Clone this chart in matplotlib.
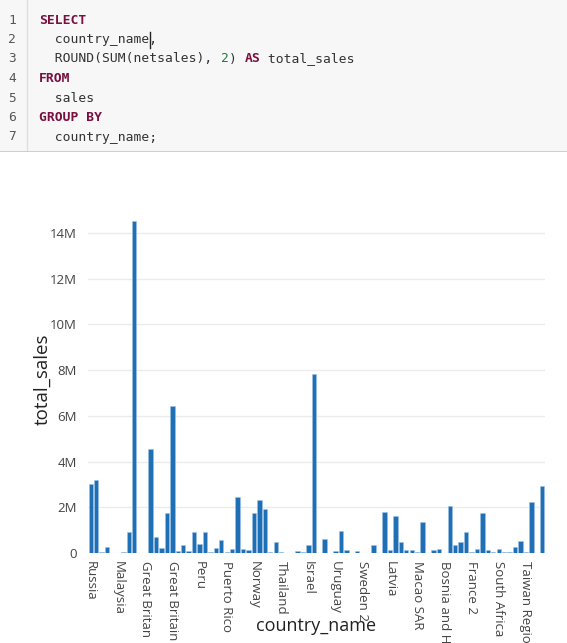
import matplotlib
matplotlib.use("Agg")
import matplotlib.pyplot as plt
from matplotlib.ticker import FuncFormatter

# SQL shown in the editor pane, as (text, kind) tokens per line
code_lines = [
    [("SELECT", "kw")],
    [("  country_name,", "txt")],
    [("  ROUND(SUM(netsales), ", "txt"), ("2", "num"), (") ", "txt"), ("AS", "kw"), (" total_sales", "txt")],
    [("FROM", "kw")],
    [("  sales", "txt")],
    [("GROUP BY", "kw")],
    [("  country_name;", "txt")],
]

countries = [
    "Russia", "Brazil", "Chile", "Colombia", "Estonia",
    "Malaysia", "Singapore", "Belgium", "United States", "Iceland",
    "Great Britan", "Germany", "Austria", "Greece", "Netherlands",
    "Great Britain", "Hungary", "Ireland", "Lithuania", "Mexico",
    "Peru", "Poland", "Croatia", "Romania", "Portugal",
    "Puerto Rico", "Argentina", "Switzerland", "Turkey", "New Zealand",
    "Norway", "Denmark", "Finland", "Cyprus", "Czech Republic",
    "Thailand", "Philippines", "Indonesia", "Vietnam", "Egypt",
    "Israel", "Japan", "Jordan", "Korea", "Luxembourg",
    "Uruguay", "Spain", "Slovakia", "Slovenia", "Bulgaria",
    "Sweden 2", "Serbia", "India", "Malta", "Canada",
    "Latvia", "Sweden", "Ukraine", "Hong Kong SAR", "Saudi Arabia",
    "Macao SAR", "Australia", "Kuwait", "Qatar", "Morocco",
    "Bosnia and Herzegovina", "France", "Italy 2", "Germany 2", "China",
    "France 2", "Ecuador", "Italy", "Kenya", "Nigeria",
    "South Africa", "Tunisia", "Pakistan", "Bahrain", "United Arab Emirates",
    "Taiwan Region", "United States 2", "Oman", "Canada 2",
]

# total_sales in millions
total_sales_m = [
    3.03, 3.19, 0.04, 0.25, 0.02,
    0.02, 0.05, 0.94, 14.5, 0.02,
    0.02, 4.54, 0.68, 0.20, 1.75,
    6.43, 0.10, 0.34, 0.07, 0.94,
    0.39, 0.90, 0.03, 0.20, 0.55,
    0.03, 0.18, 2.43, 0.18, 0.14,
    1.73, 2.31, 1.93, 0.03, 0.46,
    0.06, 0.02, 0.02, 0.10, 0.06,
    0.35, 7.83, 0.02, 0.61, 0.02,
    0.07, 0.97, 0.12, 0.02, 0.07,
    0.02, 0.02, 0.36, 0.02, 1.80,
    0.12, 1.63, 0.48, 0.12, 0.12,
    0.03, 1.34, 0.02, 0.12, 0.16,
    0.02, 2.07, 0.36, 0.48, 0.90,
    0.03, 0.17, 1.75, 0.12, 0.06,
    0.17, 0.03, 0.06, 0.27, 0.52,
    0.06, 2.23, 0.02, 2.91,
]
total_sales = [v * 1e6 for v in total_sales_m]

W, H = 567, 643
fig = plt.figure(figsize=(W / 100, H / 100), dpi=100)
fig.patch.set_facecolor("white")

# ---- editor pane (pixel coordinates) ----
ed = fig.add_axes([0, 1 - 152 / H, 1, 152 / H])
ed.set_xlim(0, W)
ed.set_ylim(152, 0)
ed.set_axis_off()
ed.add_patch(plt.Rectangle((0, 0), W, 152, color="#f7f7f7", zorder=0))
ed.plot([26.5, 26.5], [0, 152], color="#dedede", lw=1)
ed.plot([0, W], [151.5, 151.5], color="#c8c8c8", lw=1.2)

colors = {"kw": "#7a1040", "txt": "#333333", "num": "#1a7a3a"}
char_w = 7.9
mono = "DejaVu Sans Mono"
for i, toks in enumerate(code_lines):
    y = 20 + i * 19.5
    ed.text(12, y, str(i + 1), ha="center", va="center", family=mono,
            fontsize=9.3, color="#555555")
    col = 0
    for s, kind in toks:
        ed.text(39 + col * char_w, y, s, ha="left", va="center", family=mono,
                fontsize=9.4, color=colors[kind],
                fontweight="bold" if kind == "kw" else "normal")
        col += len(s)
# caret after country_name
ed.plot([39 + 14 * char_w + 0.5] * 2, [32, 48], color="#222222", lw=1)

# ---- bar chart ----
sans = ["Open Sans", "DejaVu Sans"]
left, right, top, base = 88, 545, 205, 553
ax = fig.add_axes([left / W, 1 - base / H, (right - left) / W, (base - top) / H])
x = list(range(len(countries)))
ax.bar(x, total_sales, width=0.8, color="#1f6fb4", edgecolor="#9ec3e6", linewidth=0.4, zorder=3)
ax.set_xlim(-0.5, len(countries) - 0.5)
ax.set_ylim(0, 15.22e6)
ax.set_yticks([i * 2e6 for i in range(8)])
ax.yaxis.set_major_formatter(FuncFormatter(lambda v, p: "0" if v == 0 else f"{v / 1e6:.0f}M"))
ax.grid(axis="y", color="#ebebeb", lw=1, zorder=0)
for s in ["top", "right", "left", "bottom"]:
    ax.spines[s].set_visible(False)
ax.tick_params(axis="both", length=0, labelsize=9.5, labelcolor="#444444")
ax.tick_params(axis="y", pad=8)
ax.tick_params(axis="x", pad=6)
ax.set_xticks(x[::5])
ax.set_xticklabels(countries[::5], rotation=-90, ha="center", va="top")
for lbl in ax.get_xticklabels() + ax.get_yticklabels():
    lbl.set_family(sans)
ax.set_xlabel("country_name", fontsize=13, color="#222222", labelpad=-68, family=sans)
ax.set_ylabel("total_sales", fontsize=13.5, color="#222222", labelpad=-1.5, family=sans)

fig.savefig("out.png", dpi=100)
